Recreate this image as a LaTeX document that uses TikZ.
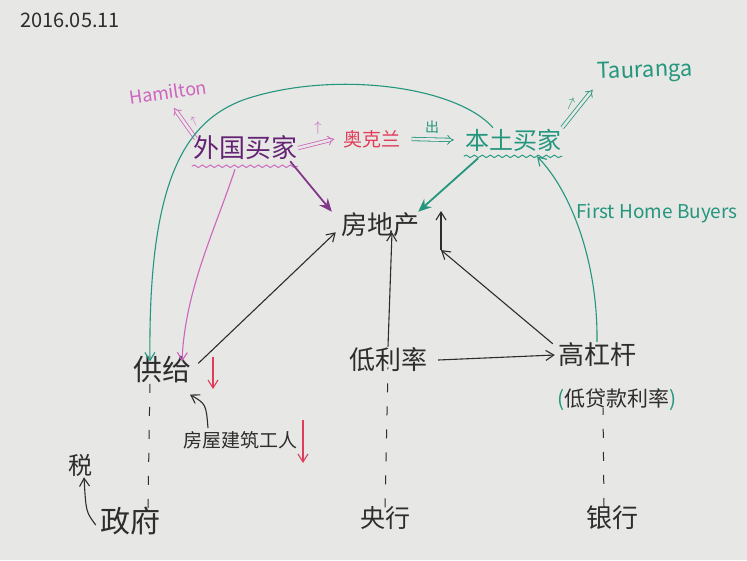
\documentclass[tikz,border=0pt]{standalone}
\usepackage{fontspec}
\setmainfont{Noto Sans CJK SC}
\usepackage{tikz}
\usetikzlibrary{arrows.meta,decorations.pathmorphing}
\usepackage{xcolor}
\definecolor{paper}{RGB}{231,231,229}
\definecolor{inkblack}{RGB}{45,45,45}
\definecolor{inkgreen}{RGB}{35,150,125}
\definecolor{inkpink}{RGB}{205,100,190}
\definecolor{inkpurple}{RGB}{100,35,115}
\definecolor{inkred}{RGB}{225,60,90}

\begin{document}
\begin{tikzpicture}[x=1pt, y=-1pt,
    lbl/.style={inner sep=1pt, text=inkblack, font=\fontsize{#1}{#1}\selectfont},
    lbl/.default=24,
    arr/.style={-{Straight Barb[length=8pt, width=10pt]}, line width=1.1pt, draw=#1},
    arr/.default=inkblack,
    fat/.style={-{Stealth[length=13pt, width=11pt]}, line width=1.8pt, draw=#1},
    dbl/.style={double=paper, double distance=2.6pt, line width=0.8pt, -{Implies}, draw=#1},
    guide/.style={line width=1pt, draw=inkblack, dash pattern=on 9pt off 14pt},
    wavy/.style={decorate, decoration={snake, amplitude=1.3pt, segment length=8pt}, line width=0.9pt, draw=#1}
]
\fill[paper] (0,0) rectangle (747,560);
\useasboundingbox (0,0) rectangle (747,560);

% Row 1: date and towns
\node[lbl=20] (date) at (70,20) {2016.05.11};
\node[lbl=18, text=inkpink, rotate=8] (ham) at (168,92) {Hamilton};
\node[lbl=22, text=inkgreen, rotate=2] (tga) at (645,72) {Tauranga};

% Row 2: buyers
\node[lbl=26, text=inkpurple] (foreign) at (245,148) {外国买家};
\node[lbl=19, text=inkred] (akl) at (372,139) {奥克兰};
\node[lbl=24, text=inkgreen] (local) at (513,140) {本土买家};
\node[lbl=14, text=inkpink] (upa) at (318,128) {$\uparrow$};
\node[lbl=12, text=inkpink, rotate=25] (upb) at (194,122) {$\uparrow$};
\node[lbl=14, text=inkgreen] (out) at (432,127) {出};
\node[lbl=14, text=inkgreen, rotate=-25] (upc) at (571,104) {$\uparrow$};

% Row 3: property
\node[lbl=26] (estate) at (380,225) {房地产};
\node[lbl=19, text=inkgreen] (fhb) at (657,213) {First Home Buyers};

% Row 4: supply, rates, leverage
\node[lbl=29] (supply) at (162,370) {供给};
\node[lbl=26] (lowrate) at (388,360) {低利率};
\node[lbl=26] (leverage) at (597,355) {高杠杆};
\node[lbl=21] (loanrate) at (617,400)
    {\textcolor{inkgreen}{(}低贷款利率\textcolor{inkgreen}{)}};
\node[lbl=19] (workers) at (240,440) {房屋建筑工人};

% Row 5: institutions
\node[lbl=24] (tax) at (80,465) {税};
\node[lbl=30] (gov) at (130,521) {政府};
\node[lbl=25] (cbank) at (385,518) {央行};
\node[lbl=26] (bank) at (612,518) {银行};

% free ends of the small up/down marks
\coordinate (riseA) at (441,250);
\coordinate (riseB) at (441,211);
\coordinate (fallA) at (213,357);
\coordinate (fallB) at (213,389);
\coordinate (fallC) at (303,420);
\coordinate (fallD) at (303,463);
\coordinate (hamfoot) at (174,108);

% -- Arrows --
\draw[wavy=inkpink] ([yshift=-5pt]foreign.south west) -- ([yshift=-5pt]foreign.south east);
\draw[wavy=inkgreen] ([yshift=-4pt]local.south west) -- ([yshift=-4pt]local.south east);
\draw[dbl=inkpink] (foreign.east) -- ([xshift=-8pt]akl.west);
\draw[dbl=inkgreen] ([xshift=10pt]akl.east) -- ([xshift=-10pt]local.west);
\draw[dbl=inkpink] ([xshift=4pt, yshift=-4pt]foreign.north west) -- (hamfoot);
\draw[dbl=inkgreen] (local.north east) -- ([xshift=-4pt, yshift=-4pt]tga.south west);
\draw[fat=inkpurple!70!inkpink] ([xshift=-8pt]foreign.south east) -- ([xshift=-8pt]estate.north west);
\draw[fat=inkgreen] ([xshift=-35pt, yshift=-6pt]local.south) -- ([xshift=-2pt]estate.north east);
\draw[arr=inkgreen] ([xshift=-20pt]local.north) .. controls (455,85) and (330,70) .. (243,100)
    .. controls (185,122) and (148,180) .. ([xshift=-12pt, yshift=-6pt]supply.north);
\draw[arr=inkpink] ([xshift=-10pt, yshift=-8pt]foreign.south) .. controls (215,230) and (185,290)
    .. ([xshift=20pt, yshift=-6pt]supply.north);
\draw[arr] ([xshift=6pt, yshift=-8pt]supply.north east) -- ([xshift=-4pt, yshift=6pt]estate.south west);
\draw[arr] (lowrate.north) -- ([xshift=12pt, yshift=6pt]estate.south);
\draw[arr] (riseA) -- (riseB);
\draw[arr] ([xshift=-4pt, yshift=-2pt]leverage.north west) -- (riseA);
\draw[arr] ([xshift=10pt]lowrate.east) -- ([xshift=-2pt]leverage.west);
\draw[arr=inkgreen] (leverage.north) .. controls (598,260) and (570,190) .. ([xshift=24pt, yshift=-4pt]local.south);
\draw[arr] ([xshift=-32pt, yshift=2pt]workers.north) .. controls (206,404) .. ([xshift=28pt, yshift=-10pt]supply.south);
\draw[arr] ([xshift=-3pt, yshift=-4pt]gov.west) .. controls (86,512) .. ([xshift=4pt]tax.south);
\draw[arr=inkred] (fallA) -- (fallB);
\draw[arr=inkred] (fallC) -- (fallD);

% -- Dashed links --
\draw[guide] ([xshift=18pt, yshift=-2pt]gov.north) -- ([xshift=-12pt, yshift=6pt]supply.south);
\draw[guide] ([yshift=-2pt]cbank.north) -- ([yshift=6pt]lowrate.south);
\draw[guide] ([xshift=-8pt, yshift=-2pt]bank.north) -- ([xshift=-14pt, yshift=4pt]loanrate.south);

\end{tikzpicture}
\end{document}
